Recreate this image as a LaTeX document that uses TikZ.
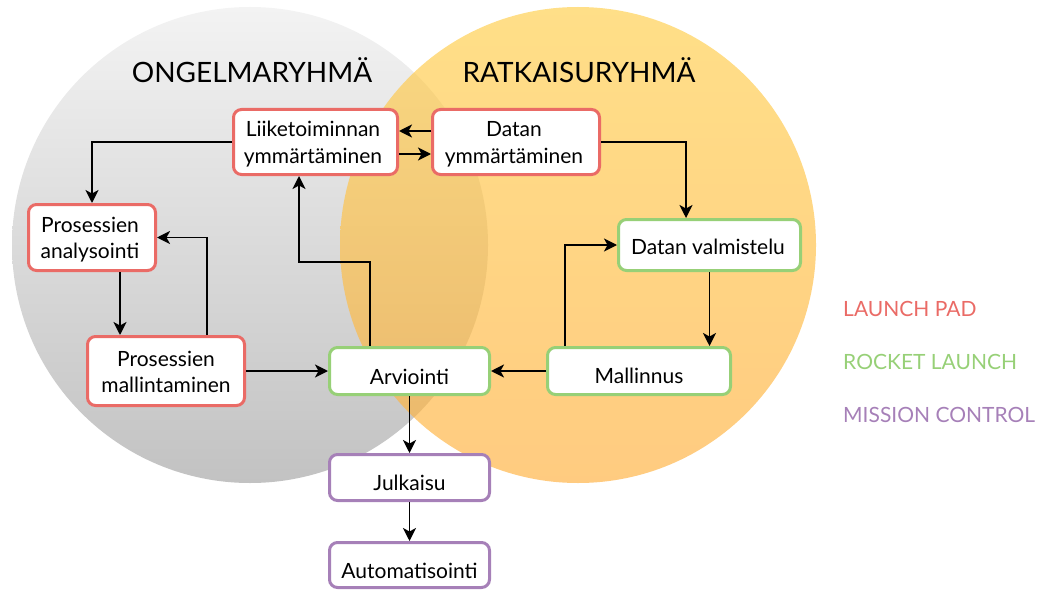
\documentclass[tikz,border=0pt]{standalone}
\usepackage{fontspec}
\setmainfont{Lato}
\usetikzlibrary{arrows.meta}
\definecolor{rborder}{HTML}{EA6B66}
\definecolor{gborder}{HTML}{97D077}
\definecolor{pborder}{HTML}{A680B8}
\definecolor{grayTop}{HTML}{F3F3F3}
\definecolor{grayBot}{HTML}{C2C2C2}
\definecolor{orTop}{HTML}{FFCE48}
\definecolor{orBot}{HTML}{FFAF3C}
\begin{document}
\begin{tikzpicture}[x=1pt,y=-1pt,
  box/.style={draw=#1, line width=3pt, rounded corners=8pt, fill=white, inner sep=0pt},
  txt/.style={font=\fontsize{21}{26}\selectfont, text=black, inner sep=0pt, anchor=base},
  title/.style={font=\fontsize{28}{32}\selectfont, text=black, inner sep=0pt, anchor=base},
  legend/.style={font=\fontsize{21}{25}\selectfont, inner sep=0pt, anchor=base west},
  arr/.style={line width=1.8pt, -{Stealth[length=13pt,width=13pt,inset=3.5pt]}}]
\useasboundingbox (0,0) rectangle (1049,591);
% circles
\shade[top color=grayTop, bottom color=grayBot] (250,245) circle (238pt);
\shade[top color=orTop, bottom color=orBot, opacity=0.65] (578,245) circle (238pt);
% titles
\node[title] (t1) at (252,83) {ONGELMARYHMÄ};
\node[title] (t2) at (579,83) {RATKAISURYHMÄ};
% boxes
\node[box=rborder, minimum width=164pt, minimum height=65pt] (Liike) at (315.5,142) {};
\node[box=rborder, minimum width=167pt, minimum height=65pt] (Datan) at (516,142) {};
\node[box=rborder, minimum width=127pt, minimum height=66pt] (PA) at (92,237.5) {};
\node[box=rborder, minimum width=157pt, minimum height=69pt] (PM) at (166,371) {};
\node[box=gborder, minimum width=160pt, minimum height=47pt] (Arv) at (409.5,371) {};
\node[box=gborder, minimum width=183pt, minimum height=47pt] (Mal) at (639,371) {};
\node[box=gborder, minimum width=182pt, minimum height=51pt] (DV) at (709.5,245) {};
\node[box=pborder, minimum width=160pt, minimum height=46pt] (Jul) at (409.5,477.5) {};
\node[box=pborder, minimum width=160pt, minimum height=45pt] (Aut) at (409.5,565) {};
% texts
\node[txt] (lLiike) at (313,137) {\begin{tabular}[t]{@{}c@{}}Liiketoiminnan\\ymmärtäminen\end{tabular}};
\node[txt] (lDatan) at (514,137) {\begin{tabular}[t]{@{}c@{}}Datan\\ymmärtäminen\end{tabular}};
\node[txt] (lPA) at (90,232) {\begin{tabular}[t]{@{}c@{}}Prosessien\\analysointi\end{tabular}};
\node[txt] (lPM) at (166,366) {\begin{tabular}[t]{@{}c@{}}Prosessien\\mallintaminen\end{tabular}};
\node[txt] (lArv) at (409.5,384) {Arviointi};
\node[txt] (lMal) at (639,383) {Mallinnus};
\node[txt] (lDV) at (708,254) {Datan valmistelu};
\node[txt] (lJul) at (409.5,490) {Julkaisu};
\node[txt] (lAut) at (409.5,578) {Automatisointi};
% legend
\node[legend, text=rborder] (g1) at (843,316) {LAUNCH PAD};
\node[legend, text=gborder] (g2) at (843,369) {ROCKET LAUNCH};
\node[legend, text=pborder] (g3) at (843,422) {MISSION CONTROL};
% connectors
\draw[arr] ([yshift=11pt]Datan.west) -- ([yshift=11pt]Liike.east);
\draw[arr] ([yshift=-12pt]Liike.east) -- ([yshift=-12pt]Datan.west);
\draw[arr] (Liike.west) -| (PA.north);
\draw[arr] (Datan.east) -| ([xshift=-23.5pt]DV.north);
\draw[arr] (DV.south) -- (DV.south |- Mal.north);
\draw[arr] ([xshift=-74pt]Mal.north) |- (DV.west);
\draw[arr] (Mal.west) -- (Arv.east);
\coordinate (k1) at (299,262);
\draw[arr] ([xshift=-39.5pt]Arv.north) |- (k1) -- (k1 |- Liike.south);
\draw[arr] ([xshift=28pt]PA.south) -- ([xshift=28pt]PA.south |- PM.north);
\draw[arr] ([xshift=41pt]PM.north) |- (PA.east);
\draw[arr] (PM.east) -- (Arv.west);
\draw[arr] (Arv.south) -- (Jul.north);
\draw[arr] (Jul.south) -- (Aut.north);
\end{tikzpicture}
\end{document}
